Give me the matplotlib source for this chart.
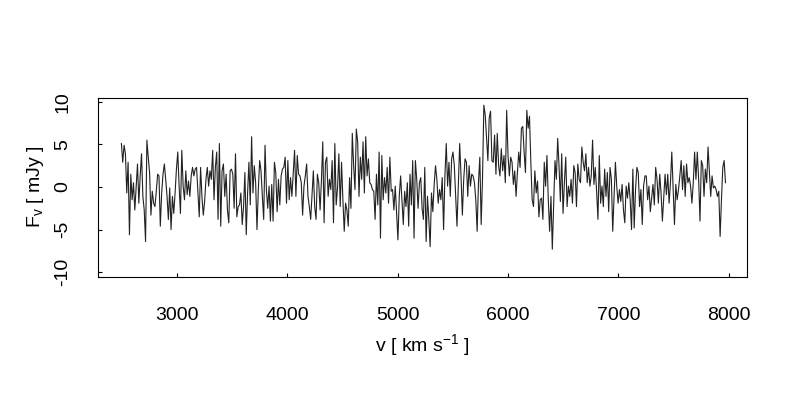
import numpy as np
import matplotlib
matplotlib.use("Agg")
import matplotlib.pyplot as plt

plt.rcParams['font.family'] = ['Liberation Sans', 'DejaVu Sans']
plt.rcParams['mathtext.fontset'] = 'custom'
plt.rcParams['mathtext.rm'] = 'Liberation Sans'
plt.rcParams['mathtext.it'] = 'Liberation Sans'

# spectrum, flux density in mJy per channel
flux = [
    # 2500 - 3150
    5.1, 2.9, 4.9, 3.9, -0.7, 2.9, -5.6, 1.5, -1.5, 0.5, -2.7, 0.1, 2.7, -1.9, 1.3, 3.9,
    -1.1, -2.7, -6.4, 5.5, 3.5, 1.7, -3.3, -0.5, -1.9, -2.3, -0.5, 1.5, 1.3, -4.6, -0.7,
    1.5, 2.7, 0.9, -1.1, -3.8, -0.1, -5.0, -1.1, -3.1, -0.7, 2.1, 4.1, 0.1, -3.1, 4.3,
    0.1, -1.5, 1.9, -0.9, 0.7, -1.1, 1.3, 2.3,
    # 3150 - 3850
    1.3, 2.1, 2.3, -0.7, -3.5, 2.3, -1.1, -3.3, -1.7, 0.9, 2.3, 0.1, 1.9, 0.9, 4.3, -1.5,
    2.3, 4.1, -3.8, 5.1, -4.6, 1.9, 2.7, -1.1, 1.5, -2.7, -4.2, 1.9, 2.1, 1.5, -2.5, 3.9,
    -3.5, -2.3, -2.1, -0.7, -4.4, -2.3, 1.7, -5.6, -0.7, 2.9, -2.1, 5.9, -0.7, 2.5, 0.5,
    -5.0, -0.3, 3.1, 1.9, -1.1, -3.8, 4.9,
    # 3850 - 4550
    -0.3, -2.5, 0.1, -4.0, 0.3, -4.0, 2.9, 1.7, -2.9, 0.9, -2.1, 1.3, 2.1, 2.3, 3.5, -1.9,
    3.1, -1.5, 1.1, -1.1, 1.5, 4.3, -1.1, 3.7, 1.5, 1.3, 0.5, -3.3, 0.1, 1.3, 2.7, -1.1,
    -2.3, -3.8, -0.9, 1.9, -2.3, -3.8, 1.5, 0.5, -2.7, 0.7, 5.3, -4.2, 2.9, 3.5, -1.1,
    0.9, -0.3, 3.1, -4.2, 5.1, -2.1, -0.1, 3.9, -2.3,
    # 4550 - 5250
    2.9, -1.5, -5.2, -1.9, -2.7, -4.6, 1.1, -2.5, 6.3, 2.5, -0.3, 6.8, 5.3, -1.1, 3.5,
    0.9, 5.3, -0.7, 5.9, 1.3, 3.3, 0.5, 0.3, -0.3, -0.5, -3.8, 1.5, -2.1, 4.1, -6.0, 3.7,
    -1.5, 1.1, -0.7, 2.3, -1.9, 3.5, -0.5, -0.3, -2.7, 0.1, -3.1, -6.2, -1.1, 1.3, -1.5,
    -4.4, -0.5, -2.3, 0.5, -4.6, 1.5, -2.1, 3.1, -6.0, 3.1, 0.9,
    # 5250 - 5900
    -2.5, 0.5, 1.1, -2.5, -3.8, 2.3, -6.4, -1.1, -3.8, -7.0, -0.7, -2.9, 0.3, 2.5, 0.9,
    -1.9, -0.3, -1.5, 1.1, -5.0, 1.3, 5.1, 0.1, 2.9, -1.1, 3.3, 4.1, 2.5, -1.1, -4.6, 0.1,
    5.1, 1.3, -3.3, 0.9, 3.3, 2.9, -1.1, 2.5, 0.1, 1.5, 1.3, 0.5, -1.5, -5.2, 0.5, 3.5,
    -4.4, 0.9, 9.6, 8.5, 5.7, 3.1, 8.1, 8.9, 3.1,
    # 5900 - 6600
    2.9, 6.1, 1.5, 6.3, 2.5, 1.3, 4.5, 1.9, 3.7, 0.5, 9.0, 3.7, 1.3, 3.5, 2.9, 0.3, 1.9,
    -1.1, 1.7, 4.1, 2.3, 6.9, 7.1, 4.1, 1.7, 9.0, 6.9, 8.3, 2.9, -1.5, -2.3, 1.9, -0.7,
    0.7, -3.5, -1.5, -1.3, -3.8, 2.9, 0.1, 3.7, -1.5, -5.2, -1.1, -7.3, -2.3, 3.1, 0.9,
    5.7, 2.5, -1.7, 3.9, -3.1, 0.5, 3.5, -2.3, 0.1,
    # 6600 - 7300
    -1.1, 0.9, -1.9, 2.5, 1.7, -2.3, 2.7, 0.9, 0.5, 4.7, 2.9, 1.9, 3.9, 0.5, 2.3, 0.1,
    1.3, 5.5, 0.3, 2.3, -0.5, -3.8, 3.7, -1.9, 0.1, -2.3, 2.1, -1.1, 1.7, -2.9, 2.3, 0.9,
    -5.2, -1.1, 2.9, 0.1, -1.9, -0.3, -1.7, 0.3, -2.7, -4.2, 0.1, -1.3, 0.5, -1.5, -5.0,
    2.1, -4.8, -0.3, 2.3, 1.7, -2.3, -0.3, -4.4, 0.1, 1.3,
    # 7300 - 7970
    1.3, -1.5, 0.1, -2.9, -1.3, 0.3, -2.1, 2.3, 0.9, -1.9, 1.5, -0.7, -4.0, -1.3, 1.5,
    -0.9, 1.5, -1.9, 0.5, 4.1, -0.3, -4.4, 0.3, -1.5, -0.3, 1.3, 3.1, -0.3, 2.5, -1.1,
    2.7, 0.5, 1.1, 0.1, -1.9, 0.5, 4.1, 0.9, 4.1, 0.9, -4.0, 3.1, 2.5, -1.1, 2.1, 0.5,
    4.7, 1.9, -1.1, 1.3, -0.1, 0.1, -0.3, -1.1, -0.5, -5.8, -1.5, 2.3, 3.1, 0.5,
]
v_start, v_end = 2495, 7970
velocity = np.linspace(v_start, v_end, len(flux))

x_ticks = [3000, 4000, 5000, 6000, 7000, 8000]
y_ticks = [-10, -5, 0, 5, 10]

fig = plt.figure(figsize=(8, 4), dpi=100)
# box in pixels: x 98..747, y 97.5..276.5
ax = fig.add_axes([98 / 800, 1 - 276.5 / 400, 649 / 800, 179 / 400])

ax.plot(velocity, flux, color='#222222', lw=0.8)

ax.set_xlim(2283, 8165)
ax.set_ylim(-10.5, 10.5)
ax.set_xticks(x_ticks)
ax.set_yticks(y_ticks)
ax.set_yticklabels([str(t) for t in y_ticks], rotation=90, va='center')

# R style: short ticks drawn inside the box
ax.tick_params(direction='in', length=3, width=0.8, labelsize=14, colors='black')
ax.tick_params(axis='x', pad=22)
ax.tick_params(axis='y', pad=19)
for s in ax.spines.values():
    s.set_linewidth(0.8)

fig.text(422 / 800, 1 - 345 / 400, r'v [ km s$^{-1}$ ]', fontsize=14,
         ha='center', va='center')
fig.text(35 / 800, 1 - 187 / 400, r'F$_{\mathrm{v}}$ [ mJy ]', fontsize=14,
         ha='center', va='center', rotation=90)

fig.savefig('out.png', dpi=100)
